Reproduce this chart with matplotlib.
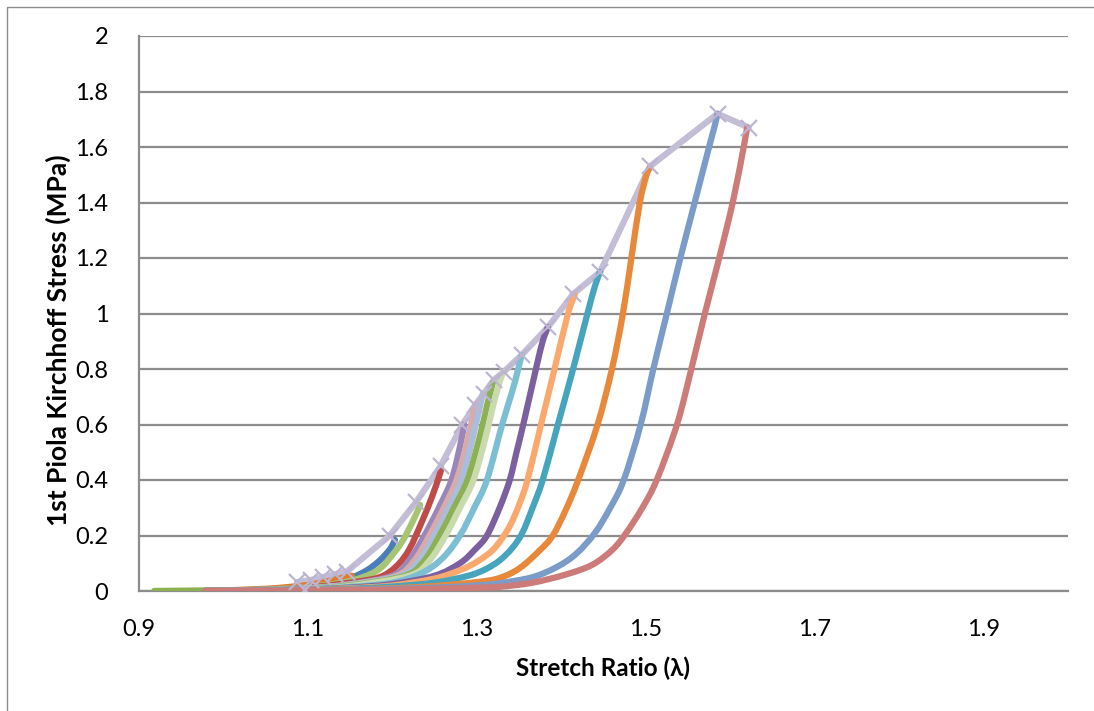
import numpy as np
import matplotlib
matplotlib.use("Agg")
import matplotlib.pyplot as plt
from matplotlib.patches import Rectangle, PathPatch
from matplotlib.path import Path

plt.rcParams['font.family'] = ['Lato', 'DejaVu Sans']

# stress-stretch curves, one per loading step
blue_dark_x = [0.978, 1.05, 1.10, 1.13, 1.153, 1.17, 1.185, 1.197, 1.203]
blue_dark_y = [0.0, 0.005, 0.015, 0.03, 0.05, 0.075, 0.11, 0.15, 0.184]

orange_small_x = [0.978, 1.05, 1.10, 1.13, 1.152]
orange_small_y = [0.0, 0.008, 0.022, 0.04, 0.055]

green_light_x = [0.978, 1.05, 1.10, 1.14, 1.165, 1.185, 1.20, 1.212, 1.224, 1.233]
green_light_y = [0.0, 0.005, 0.014, 0.03, 0.05, 0.08, 0.13, 0.18, 0.25, 0.31]

red_x = [0.978, 1.05, 1.10, 1.15, 1.185, 1.205, 1.22, 1.235, 1.247, 1.255, 1.258]
red_y = [0.0, 0.004, 0.012, 0.03, 0.05, 0.09, 0.15, 0.25, 0.34, 0.41, 0.44]

lilac_x = [0.978, 1.05, 1.10, 1.15, 1.20, 1.22, 1.238, 1.255, 1.27, 1.28, 1.285]
lilac_y = [0.0, 0.004, 0.01, 0.025, 0.055, 0.11, 0.2, 0.3, 0.4, 0.52, 0.60]

pink_x = [0.978, 1.05, 1.10, 1.15, 1.205, 1.226, 1.244, 1.261, 1.276, 1.288, 1.298]
pink_y = [0.0, 0.004, 0.01, 0.024, 0.055, 0.11, 0.2, 0.3, 0.4, 0.53, 0.67]

steel_x = [0.978, 1.05, 1.10, 1.15, 1.21, 1.232, 1.25, 1.267, 1.282, 1.295, 1.307]
steel_y = [0.0, 0.004, 0.009, 0.022, 0.055, 0.11, 0.2, 0.3, 0.4, 0.55, 0.71]

green_x = [0.918, 0.978, 1.05, 1.10, 1.15, 1.215, 1.238, 1.256, 1.273, 1.289, 1.303, 1.313, 1.319]
green_y = [0.0, 0.002, 0.004, 0.009, 0.02, 0.055, 0.11, 0.2, 0.3, 0.4, 0.55, 0.68, 0.75]

green_pale_x = [0.978, 1.05, 1.10, 1.15, 1.22, 1.244, 1.263, 1.28, 1.296, 1.31, 1.322, 1.331]
green_pale_y = [0.0, 0.003, 0.008, 0.018, 0.055, 0.11, 0.2, 0.3, 0.4, 0.55, 0.7, 0.79]

aqua_x = [0.978, 1.05, 1.10, 1.15, 1.20, 1.235, 1.26, 1.28, 1.297, 1.312, 1.33, 1.342, 1.349, 1.353]
aqua_y = [0.0, 0.003, 0.007, 0.015, 0.03, 0.065, 0.12, 0.2, 0.3, 0.4, 0.6, 0.72, 0.8, 0.85]

purple_x = [0.978, 1.05, 1.10, 1.15, 1.20, 1.25, 1.28, 1.298, 1.312, 1.327, 1.339, 1.347, 1.355, 1.37, 1.378, 1.384]
purple_y = [0.0, 0.003, 0.006, 0.012, 0.025, 0.055, 0.1, 0.15, 0.2, 0.3, 0.4, 0.5, 0.6, 0.8, 0.9, 0.95]

orange_light_x = [0.978, 1.05, 1.10, 1.15, 1.20, 1.25, 1.28, 1.30, 1.318, 1.33, 1.34, 1.35, 1.36, 1.376, 1.392, 1.408, 1.416]
orange_light_y = [0.0, 0.002, 0.005, 0.01, 0.02, 0.045, 0.075, 0.105, 0.145, 0.19, 0.24, 0.31, 0.4, 0.6, 0.8, 1.0, 1.067]

teal_x = [0.978, 1.05, 1.10, 1.15, 1.20, 1.25, 1.29, 1.31, 1.327, 1.342, 1.354, 1.366, 1.378, 1.396, 1.414, 1.431, 1.44, 1.446]
teal_y = [0.0, 0.002, 0.004, 0.008, 0.016, 0.03, 0.055, 0.078, 0.11, 0.155, 0.21, 0.3, 0.4, 0.6, 0.8, 1.0, 1.1, 1.15]

orange_x = [0.978, 1.05, 1.10, 1.15, 1.20, 1.25, 1.30, 1.327, 1.351, 1.375, 1.39, 1.405, 1.42,
            1.443, 1.46, 1.473, 1.483, 1.493, 1.501, 1.505]
orange_y = [0.0, 0.002, 0.003, 0.006, 0.01, 0.018, 0.032, 0.047, 0.083, 0.148, 0.2, 0.29, 0.4,
            0.6, 0.8, 1.0, 1.2, 1.4, 1.5, 1.525]

blue_x = [0.978, 1.05, 1.10, 1.15, 1.20, 1.25, 1.30, 1.327, 1.366, 1.395, 1.418, 1.44, 1.458, 1.474,
          1.494, 1.509, 1.525, 1.541, 1.558, 1.575, 1.582, 1.585]
blue_y = [0.0, 0.002, 0.003, 0.005, 0.008, 0.012, 0.02, 0.028, 0.05, 0.087, 0.135, 0.21, 0.3, 0.4,
          0.6, 0.8, 1.0, 1.2, 1.4, 1.6, 1.68, 1.72]

rose_x = [0.978, 1.05, 1.10, 1.15, 1.20, 1.25, 1.30, 1.327, 1.366, 1.406, 1.437, 1.461, 1.477, 1.496,
          1.513, 1.537, 1.554, 1.57, 1.587, 1.603, 1.616, 1.620]
rose_y = [0.0, 0.001, 0.002, 0.003, 0.005, 0.008, 0.012, 0.015, 0.03, 0.06, 0.095, 0.15, 0.21, 0.3,
          0.4, 0.6, 0.8, 1.0, 1.2, 1.4, 1.6, 1.67]

# failure points of each step (envelope with x markers)
env_x = [1.096, 1.087, 1.104, 1.118, 1.132, 1.146, 1.197, 1.228, 1.257, 1.283, 1.298, 1.308,
         1.320, 1.332, 1.353, 1.384, 1.414, 1.446, 1.505, 1.585, 1.622]
env_y = [0.003, 0.032, 0.04, 0.05, 0.06, 0.07, 0.20, 0.32, 0.45, 0.60, 0.67, 0.71,
         0.76, 0.79, 0.85, 0.95, 1.07, 1.15, 1.53, 1.72, 1.67]

curves = [
    (blue_dark_x, blue_dark_y, "#4a7ebb"),
    (orange_small_x, orange_small_y, "#e07b2e"),
    (green_light_x, green_light_y, "#a6c472"),
    (red_x, red_y, "#be4b48"),
    (lilac_x, lilac_y, "#9a86b9"),
    (pink_x, pink_y, "#d8abaa"),
    (steel_x, steel_y, "#a9bedc"),
    (green_x, green_y, "#8cb151"),
    (green_pale_x, green_pale_y, "#c8daae"),
    (aqua_x, aqua_y, "#7cbed3"),
    (purple_x, purple_y, "#7b5f9f"),
    (orange_light_x, orange_light_y, "#f9a96e"),
    (teal_x, teal_y, "#46a4bc"),
    (orange_x, orange_y, "#e8883a"),
    (blue_x, blue_y, "#7b9bc8"),
    (rose_x, rose_y, "#cc7b79"),
]


def smooth_path(xs, ys):
    # Excel-style "smoothed line": cubic bezier between the data points
    p = np.column_stack([xs, ys])
    n = len(p)
    verts = [p[0]]
    codes = [Path.MOVETO]
    for i in range(n - 1):
        p0 = p[i - 1] if i > 0 else p[i]
        p3 = p[i + 2] if i + 2 < n else p[i + 1]
        c1 = p[i] + (p[i + 1] - p0) / 6
        c2 = p[i + 1] - (p3 - p[i]) / 6
        verts += [c1, c2, p[i + 1]]
        codes += [Path.CURVE4] * 3
    return Path(verts, codes)


W, H = 1094, 711
fig = plt.figure(figsize=(W / 100, H / 100), dpi=100)
ax = fig.add_axes([139 / W, 1 - 591 / H, (1068 - 139) / W, (591 - 36) / H])

# chart area border
fig.patches.append(Rectangle((7 / W, -0.1), 1.2, 1 - 7 / H + 0.1, transform=fig.transFigure,
                             fill=False, edgecolor="#8c8c8c", lw=1.0))

env_col = "#c4bdd6"
ax.plot(env_x, env_y, color=env_col, lw=4.5, solid_joinstyle="round", solid_capstyle="round", zorder=2)
for cx, cy, col in curves:
    ax.add_patch(PathPatch(smooth_path(cx, cy), fill=False, edgecolor=col, lw=4.5,
                           capstyle="round", joinstyle="round", zorder=3))
ax.plot(env_x, env_y, ls="none", marker="x", ms=11, mew=1.6, color="#bdb5d0", zorder=4)

ax.set_xlim(0.9, 2.0)
ax.set_ylim(0, 2)
ax.set_xticks([0.9, 1.1, 1.3, 1.5, 1.7, 1.9])
ax.set_xticklabels(["0.9", "1.1", "1.3", "1.5", "1.7", "1.9"])
yt = [0, 0.2, 0.4, 0.6, 0.8, 1.0, 1.2, 1.4, 1.6, 1.8, 2.0]
ax.set_yticks(yt)
ax.set_yticklabels(["0", "0.2", "0.4", "0.6", "0.8", "1", "1.2", "1.4", "1.6", "1.8", "2"])
ax.tick_params(length=0, labelsize=17, pad=22)
ax.tick_params(axis="x", pad=20)
ax.grid(axis="y", color="#8c8c8c", lw=1.6)
ax.set_axisbelow(True)
for s in ["top", "right"]:
    ax.spines[s].set_visible(False)
for s in ["left", "bottom"]:
    ax.spines[s].set_color("#8c8c8c")
    ax.spines[s].set_linewidth(1.6)

fig.text(58 / W, 1 - 340 / H, "1st Piola Kirchhoff Stress (MPa)", rotation=90, ha="center", va="center",
         fontsize=19, fontweight="bold")
fig.text(603 / W, 1 - 668 / H, "Stretch Ratio (λ)", ha="center", va="center", fontsize=17.5, fontweight="bold")

fig.savefig("out.png", dpi=100)
